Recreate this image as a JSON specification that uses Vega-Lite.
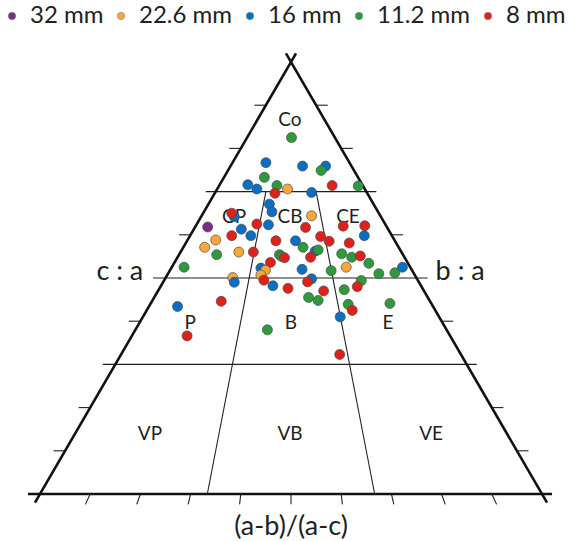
{
  "$schema": "https://vega.github.io/schema/vega-lite/v6.json",
  "width": 570,
  "height": 541,
  "padding": 0,
  "autosize": {"type": "none"},
  "background": "white",
  "config": {"view": {"stroke": null}, "font": "Lato"},
  "datasets": {
    "edges": [
      {"x": -0.01, "y": -0.02, "x2": 0.51, "y2": 1.02},
      {"x": 1.01, "y": -0.02, "x2": 0.49, "y2": 1.02},
      {"x": -0.024, "y": 0, "x2": 1.02, "y2": 0}
    ],
    "grid": [
      {"x": 0.33, "y": 0.7, "x2": 0.67, "y2": 0.7},
      {"x": 0.225, "y": 0.5, "x2": 0.772, "y2": 0.5},
      {"x": 0.125, "y": 0.3, "x2": 0.87, "y2": 0.3},
      {"x": 0.45, "y": 0.7, "x2": 0.33333, "y2": 0},
      {"x": 0.55, "y": 0.7, "x2": 0.66667, "y2": 0}
    ],
    "ticks": [
      {"x": 0.05, "y": 0.1, "x2": 0.027, "y2": 0.1},
      {"x": 0.1, "y": 0.2, "x2": 0.077, "y2": 0.2},
      {"x": 0.2, "y": 0.4, "x2": 0.177, "y2": 0.4},
      {"x": 0.3, "y": 0.6, "x2": 0.277, "y2": 0.6},
      {"x": 0.4, "y": 0.8, "x2": 0.377, "y2": 0.8},
      {"x": 0.45, "y": 0.9, "x2": 0.427, "y2": 0.9},
      {"x": 0.95, "y": 0.1, "x2": 0.973, "y2": 0.1},
      {"x": 0.9, "y": 0.2, "x2": 0.923, "y2": 0.2},
      {"x": 0.8, "y": 0.4, "x2": 0.823, "y2": 0.4},
      {"x": 0.7, "y": 0.6, "x2": 0.723, "y2": 0.6},
      {"x": 0.6, "y": 0.8, "x2": 0.623, "y2": 0.8},
      {"x": 0.55, "y": 0.9, "x2": 0.573, "y2": 0.9},
      {"x": 0.1, "y": 0, "x2": 0.0904, "y2": -0.024},
      {"x": 0.2, "y": 0, "x2": 0.1928, "y2": -0.024},
      {"x": 0.3, "y": 0, "x2": 0.2952, "y2": -0.024},
      {"x": 0.4, "y": 0, "x2": 0.3976, "y2": -0.024},
      {"x": 0.5, "y": 0, "x2": 0.5, "y2": -0.024},
      {"x": 0.6, "y": 0, "x2": 0.6024, "y2": -0.024},
      {"x": 0.7, "y": 0, "x2": 0.7048, "y2": -0.024},
      {"x": 0.8, "y": 0, "x2": 0.8072, "y2": -0.024},
      {"x": 0.9, "y": 0, "x2": 0.9096, "y2": -0.024}
    ],
    "regions": [
      {"x": 0.498, "y": 0.866, "t": "Co"},
      {"x": 0.3865, "y": 0.641, "t": "CP"},
      {"x": 0.498, "y": 0.641, "t": "CB"},
      {"x": 0.6135, "y": 0.641, "t": "CE"},
      {"x": 0.299, "y": 0.396, "t": "P"},
      {"x": 0.5, "y": 0.396, "t": "B"},
      {"x": 0.693, "y": 0.396, "t": "E"},
      {"x": 0.219, "y": 0.139, "t": "VP"},
      {"x": 0.498, "y": 0.139, "t": "VB"},
      {"x": 0.779, "y": 0.139, "t": "VE"}
    ],
    "titles": [
      {"x": 0.159, "y": 0.514, "t": "c : a"},
      {"x": 0.837, "y": 0.514, "t": "b : a"},
      {"x": 0.5, "y": -0.0764, "t": "(a-b)/(a-c)"}
    ],
    "points": [
      {"x": 0.501, "y": 0.825, "s": "11.2 mm"},
      {"x": 0.450, "y": 0.767, "s": "16 mm"},
      {"x": 0.523, "y": 0.759, "s": "16 mm"},
      {"x": 0.569, "y": 0.759, "s": "16 mm"},
      {"x": 0.560, "y": 0.749, "s": "11.2 mm"},
      {"x": 0.447, "y": 0.733, "s": "11.2 mm"},
      {"x": 0.414, "y": 0.716, "s": "16 mm"},
      {"x": 0.432, "y": 0.706, "s": "16 mm"},
      {"x": 0.472, "y": 0.714, "s": "11.2 mm"},
      {"x": 0.493, "y": 0.706, "s": "22.6 mm"},
      {"x": 0.582, "y": 0.714, "s": "8 mm"},
      {"x": 0.634, "y": 0.713, "s": "11.2 mm"},
      {"x": 0.468, "y": 0.696, "s": "8 mm"},
      {"x": 0.541, "y": 0.698, "s": "16 mm"},
      {"x": 0.457, "y": 0.671, "s": "16 mm"},
      {"x": 0.462, "y": 0.653, "s": "16 mm"},
      {"x": 0.387, "y": 0.642, "s": "16 mm"},
      {"x": 0.382, "y": 0.650, "s": "8 mm"},
      {"x": 0.541, "y": 0.644, "s": "22.6 mm"},
      {"x": 0.334, "y": 0.618, "s": "32 mm"},
      {"x": 0.401, "y": 0.613, "s": "16 mm"},
      {"x": 0.432, "y": 0.625, "s": "8 mm"},
      {"x": 0.455, "y": 0.623, "s": "16 mm"},
      {"x": 0.529, "y": 0.617, "s": "8 mm"},
      {"x": 0.604, "y": 0.620, "s": "8 mm"},
      {"x": 0.647, "y": 0.621, "s": "8 mm"},
      {"x": 0.382, "y": 0.598, "s": "8 mm"},
      {"x": 0.420, "y": 0.598, "s": "16 mm"},
      {"x": 0.646, "y": 0.598, "s": "16 mm"},
      {"x": 0.350, "y": 0.588, "s": "22.6 mm"},
      {"x": 0.470, "y": 0.586, "s": "8 mm"},
      {"x": 0.509, "y": 0.586, "s": "16 mm"},
      {"x": 0.559, "y": 0.596, "s": "8 mm"},
      {"x": 0.576, "y": 0.585, "s": "8 mm"},
      {"x": 0.616, "y": 0.581, "s": "8 mm"},
      {"x": 0.328, "y": 0.571, "s": "22.6 mm"},
      {"x": 0.524, "y": 0.571, "s": "11.2 mm"},
      {"x": 0.548, "y": 0.562, "s": "16 mm"},
      {"x": 0.554, "y": 0.565, "s": "11.2 mm"},
      {"x": 0.352, "y": 0.554, "s": "11.2 mm"},
      {"x": 0.396, "y": 0.560, "s": "22.6 mm"},
      {"x": 0.425, "y": 0.560, "s": "8 mm"},
      {"x": 0.477, "y": 0.554, "s": "11.2 mm"},
      {"x": 0.481, "y": 0.550, "s": "11.2 mm"},
      {"x": 0.487, "y": 0.547, "s": "8 mm"},
      {"x": 0.539, "y": 0.548, "s": "8 mm"},
      {"x": 0.601, "y": 0.556, "s": "11.2 mm"},
      {"x": 0.621, "y": 0.548, "s": "11.2 mm"},
      {"x": 0.638, "y": 0.551, "s": "8 mm"},
      {"x": 0.287, "y": 0.525, "s": "11.2 mm"},
      {"x": 0.440, "y": 0.523, "s": "16 mm"},
      {"x": 0.459, "y": 0.536, "s": "8 mm"},
      {"x": 0.449, "y": 0.518, "s": "22.6 mm"},
      {"x": 0.522, "y": 0.520, "s": "16 mm"},
      {"x": 0.580, "y": 0.517, "s": "11.2 mm"},
      {"x": 0.610, "y": 0.525, "s": "22.6 mm"},
      {"x": 0.655, "y": 0.534, "s": "11.2 mm"},
      {"x": 0.675, "y": 0.510, "s": "11.2 mm"},
      {"x": 0.707, "y": 0.512, "s": "11.2 mm"},
      {"x": 0.722, "y": 0.525, "s": "16 mm"},
      {"x": 0.440, "y": 0.507, "s": "22.6 mm"},
      {"x": 0.384, "y": 0.501, "s": "22.6 mm"},
      {"x": 0.387, "y": 0.490, "s": "16 mm"},
      {"x": 0.446, "y": 0.495, "s": "8 mm"},
      {"x": 0.464, "y": 0.482, "s": "16 mm"},
      {"x": 0.541, "y": 0.498, "s": "16 mm"},
      {"x": 0.533, "y": 0.491, "s": "8 mm"},
      {"x": 0.640, "y": 0.494, "s": "11.2 mm"},
      {"x": 0.632, "y": 0.480, "s": "8 mm"},
      {"x": 0.494, "y": 0.476, "s": "8 mm"},
      {"x": 0.565, "y": 0.470, "s": "8 mm"},
      {"x": 0.606, "y": 0.473, "s": "11.2 mm"},
      {"x": 0.361, "y": 0.446, "s": "8 mm"},
      {"x": 0.274, "y": 0.434, "s": "16 mm"},
      {"x": 0.535, "y": 0.455, "s": "11.2 mm"},
      {"x": 0.554, "y": 0.448, "s": "11.2 mm"},
      {"x": 0.614, "y": 0.439, "s": "11.2 mm"},
      {"x": 0.697, "y": 0.441, "s": "11.2 mm"},
      {"x": 0.622, "y": 0.425, "s": "8 mm"},
      {"x": 0.293, "y": 0.366, "s": "8 mm"},
      {"x": 0.453, "y": 0.380, "s": "11.2 mm"},
      {"x": 0.598, "y": 0.410, "s": "16 mm"},
      {"x": 0.597, "y": 0.323, "s": "8 mm"}
    ]
  },
  "encoding": {
    "x": {"field": "x", "type": "quantitative", "scale": {"domain": [-0.07968, 1.05578], "nice": false, "zero": false}, "axis": null},
    "y": {"field": "y", "type": "quantitative", "scale": {"domain": [-0.1088, 1.14352], "nice": false, "zero": false}, "axis": null}
  },
  "layer": [
    {
      "data": {"name": "grid"},
      "mark": {"type": "rule", "color": "#231f20", "strokeWidth": 1.1},
      "encoding": {"x2": {"field": "x2"}, "y2": {"field": "y2"}}
    },
    {
      "data": {"name": "ticks"},
      "mark": {"type": "rule", "color": "#231f20", "strokeWidth": 1.1},
      "encoding": {"x2": {"field": "x2"}, "y2": {"field": "y2"}}
    },
    {
      "data": {"name": "edges"},
      "mark": {"type": "rule", "color": "#111111", "strokeWidth": 2.6},
      "encoding": {"x2": {"field": "x2"}, "y2": {"field": "y2"}}
    },
    {
      "data": {"name": "regions"},
      "mark": {"type": "text", "fontSize": 19, "font": "Lato", "color": "#231f20", "align": "center", "baseline": "middle"},
      "encoding": {"text": {"field": "t"}}
    },
    {
      "data": {"name": "titles"},
      "mark": {"type": "text", "fontSize": 27, "font": "Lato", "color": "#231f20", "align": "center", "baseline": "middle"},
      "encoding": {"text": {"field": "t"}}
    },
    {
      "data": {"name": "points"},
      "mark": {"type": "circle", "size": 100, "opacity": 1, "stroke": "#4a4a4a", "strokeWidth": 0.7},
      "encoding": {
        "color": {
          "field": "s",
          "type": "nominal",
          "scale": {"domain": ["32 mm", "22.6 mm", "16 mm", "11.2 mm", "8 mm"], "range": ["#7b2d86", "#f7a83c", "#0a6fc2", "#2e9a3c", "#e0201b"]},
          "legend": {
            "orient": "none",
            "legendX": 0,
            "legendY": 4,
            "direction": "horizontal",
            "columns": 5,
            "gridAlign": "none",
            "title": null,
            "labelFontSize": 24,
            "labelFont": "Lato",
            "labelColor": "#231f20",
            "labelLimit": 200,
            "symbolType": "circle",
            "symbolSize": 55,
            "symbolStrokeColor": "#777777",
            "symbolStrokeWidth": 0.5,
            "labelOffset": 6,
            "columnPadding": 5
          }
        }
      }
    }
  ]
}
